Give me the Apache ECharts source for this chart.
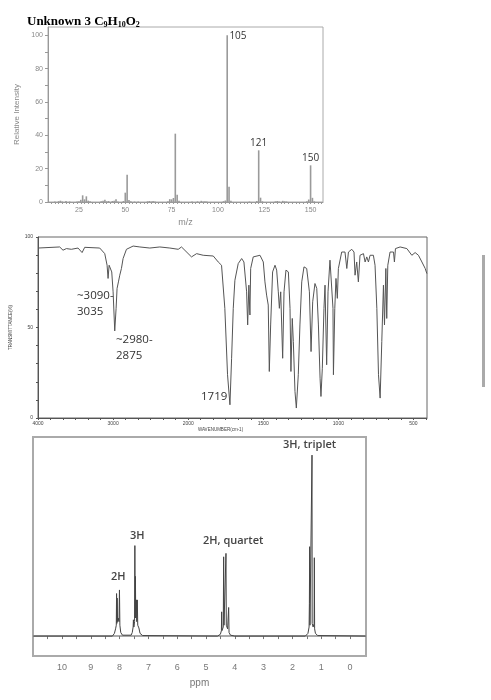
<!DOCTYPE html>
<html><head><meta charset="utf-8">
<script src="https://cdn.jsdelivr.net/npm/echarts@6/dist/echarts.min.js"></script>
<style>html,body{margin:0;padding:0;background:#fff}#c{width:491px;height:700px}</style>
</head><body><div id="c"></div>
<script>
// ---------- Mass spectrum ----------
const msMz  = [12,14,15,16,18,20,24,25,26,27,28,29,30,31,37,38,39,40,41,43,44,45,46,49,50,51,52,53,55,57,62,63,64,65,66,73,74,75,76,77,78,79,86,89,91,92,93,94,103,104,105,106,107,117,121,122,123,124,131,132,133,135,136,137,148,149,150,151,152];
const msInt = [0.3,0.5,0.8,0.3,0.6,0.3,0.3,0.5,1.3,4.0,1.6,3.4,0.8,0.4,0.4,0.7,1.3,0.4,0.6,0.6,0.8,1.7,0.3,0.6,5.6,16.4,1.2,0.5,0.3,0.3,0.4,0.6,0.3,0.6,0.3,0.5,1.7,1.6,2.4,41.0,4.4,0.7,0.3,0.4,0.7,0.3,0.4,0.3,0.5,0.9,100,9.2,0.7,0.3,0.6,31.0,2.6,0.4,0.4,0.6,0.3,0.7,0.4,0.3,0.4,1.5,22.0,2.5,0.4];
const msPeakMz   = [105, 122, 150];
const msPeakText = ['105', '121', '150'];
const msXTicks = [25, 50, 75, 100, 125, 150];
const msYTicks = [0, 20, 40, 60, 80, 100];

// ---------- IR spectrum ----------
const irWave  = [4000,3711,3667,3622,3556,3467,3413,3378,3178,3111,3080,3067,3053,3031,3018,3000,2978,2960,2947,2929,2911,2889,2867,2822,2733,2644,2511,2378,2244,2133,2089,1978,1944,1900,1833,1800,1778,1756,1738,1722,1711,1700,1689,1667,1644,1629,1611,1604,1596,1589,1584,1567,1522,1500,1489,1478,1467,1460,1451,1438,1422,1411,1400,1393,1384,1371,1362,1349,1333,1322,1316,1307,1300,1289,1280,1267,1256,1244,1229,1211,1193,1182,1171,1156,1144,1133,1122,1116,1107,1096,1089,1078,1069,1056,1044,1036,1033,1024,1016,1007,1000,978,956,944,933,911,896,889,878,867,856,833,822,811,800,789,767,756,744,733,722,711,700,693,684,678,671,656,633,627,620,589,544,511,489,467,444,422,411];
const irTrans = [93.9,94.5,92.7,93.6,93.2,93.9,91.4,94.3,93.9,90.8,84.4,77.1,84.4,84.8,80.7,69.7,48.1,60.6,71.6,75.2,78.9,82.6,88.1,93.2,95.0,94.5,93.9,94.5,93.9,93.2,94.5,89.0,90.8,89.9,89.5,86.2,84.4,60.6,23.9,7.3,33.0,60.6,76.1,85.3,88.1,86.2,69.7,51.4,73.4,56.9,82.6,89.0,89.9,86.2,75.2,67.9,62.4,25.7,51.4,80.7,84.4,81.7,69.7,60.6,69.7,33.0,69.7,81.7,80.7,60.6,25.7,55.0,42.2,14.7,5.5,23.9,51.4,75.2,83.5,82.6,69.7,36.7,64.2,74.3,71.6,51.4,22.0,11.9,27.5,60.6,73.4,29.4,69.7,87.2,86.2,60.6,23.9,60.6,77.1,66.1,82.6,91.7,91.7,82.6,91.7,93.2,91.7,78.9,86.2,75.2,89.9,90.8,86.2,89.0,86.2,89.9,89.9,84.4,60.6,23.9,11.0,42.2,73.4,51.4,82.6,55.0,84.4,91.7,91.7,86.2,93.6,94.5,93.6,89.9,91.4,89.9,86.2,82.6,79.8];
const irXTickWave = [4000, 3000, 2000, 1500, 1000, 500];
const irYTicks = [0, 50, 100];
const irNotes = ['~3090-\n3035', '~2980-\n2875', '1719'];

// ---------- 1H NMR spectrum ----------
const nmrPpm = [11.0,8.25,8.18,8.14,8.115,8.105,8.095,8.085,8.07,8.05,8.02,8.005,7.99,7.96,7.9,7.6,7.56,7.53,7.52,7.505,7.48,7.47,7.46,7.45,7.44,7.415,7.405,7.385,7.37,7.33,7.32,7.29,7.2,4.6,4.5,4.465,4.456,4.445,4.40,4.387,4.375,4.35,4.315,4.306,4.295,4.25,4.222,4.213,4.2,4.15,4.0,1.55,1.46,1.42,1.41,1.40,1.39,1.35,1.325,1.319,1.313,1.28,1.245,1.238,1.228,1.2,1.12,-0.55];
const nmrInt = [0,0,1.5,4,6,23.5,7,21,8,10,8,25.5,6,2,0.5,0.5,2,5,9,5,8,50,10,33,10,20,8,20,6,4.5,4,1.5,0.3,0,1,3,13.4,3,5,43.8,6,5,6,45.7,6,4,3,15.8,2,0.5,0,0,1.5,5,18,49.4,6,5,7,100,7,5,7,43.3,4,1.5,0.3,0];
const nmrXTicks = [0,1,2,3,4,5,6,7,8,9,10];
const nmrNotes = ['2H', '3H', '2H, quartet', '3H, triplet'];

// ---------- helpers ----------
function waveToU(w) { return w >= 2000 ? (4000 - w) / 1000 : 2 + (2000 - w) / 500; }
function uToWave(u) { return u <= 2 ? Math.round(4000 - 1000 * u) : Math.round(2000 - 500 * (u - 2)); }

const msData = msMz.map((m, i) => {
  const k = msPeakMz.indexOf(m);
  if (k < 0) return [m, msInt[i]];
  const first = k === 0;
  return {
    value: [m, msInt[i]],
    label: {
      show: true, formatter: msPeakText[k],
      position: first ? [3, -4] : 'top', distance: 2,
      align: first ? 'left' : 'center',
      fontFamily: 'Open Sans', fontSize: 10, color: '#333'
    }
  };
});
const irData = irWave.map((w, i) => [waveToU(w), irTrans[i]]);
const nmrData = nmrPpm.map((p, i) => [p, nmrInt[i]]);

const msMinor = []; for (let v = 10; v <= 156; v += 2) msMinor.push(v);
const irTickU = []; for (let i = 0; i <= 31; i++) irTickU.push(i / 6);
const nmrTickV = []; for (let v = 0; v <= 21; v++) nmrTickV.push(v / 2);
const tenTicks = [0,10,20,30,40,50,60,70,80,90,100];

const chart = echarts.init(document.getElementById('c'), null, { renderer: 'canvas' });
const noteFont = { fontFamily: 'Open Sans', fontSize: 11.5, fill: '#333' };
const nmrFont = { fontFamily: 'Open Sans', fontSize: 11, fontWeight: 600, fill: '#444' };

chart.setOption({
  animation: false,
  backgroundColor: '#fff',
  title: {
    left: 22, top: 9,
    text: '{b|Unknown 3 }{n|C}{s|9}{n|H}{s|10}{n|O}{s|2}',
    textStyle: {
      rich: {
        b: { fontFamily: 'Liberation Serif', fontWeight: 'bold', fontSize: 13, color: '#000', lineHeight: 16 },
        n: { fontFamily: 'Liberation Serif', fontSize: 13, color: '#000', lineHeight: 16 },
        s: { fontFamily: 'Liberation Serif', fontSize: 8, color: '#000', padding: [6, 0, 0, 0], lineHeight: 16 }
      }
    }
  },
  grid: [
    { left: 48, top: 27, width: 275, height: 175, show: true, borderColor: '#aaa', borderWidth: 1 },
    { left: 38, top: 237, width: 389, height: 181, show: true, borderColor: '#666', borderWidth: 1 },
    { left: 33, top: 437, width: 333, height: 219, show: true, borderColor: '#aaa', borderWidth: 2 }
  ],
  xAxis: [
    {
      gridIndex: 0, type: 'value', min: 8.3, max: 156.7,
      name: 'm/z', nameLocation: 'middle', nameGap: 16,
      nameTextStyle: { fontFamily: 'Liberation Sans', fontSize: 9, color: '#888' },
      axisLine: { show: true, lineStyle: { color: '#999' } },
      axisTick: { show: true, length: 2, customValues: msMinor, lineStyle: { color: '#999' } },
      axisLabel: { customValues: msXTicks, fontFamily: 'Liberation Sans', fontSize: 7, color: '#888', margin: 5 },
      splitLine: { show: false }
    },
    {
      gridIndex: 1, type: 'value', min: 0, max: 5.18,
      name: 'WAVENUMBER(cm-1)', nameLocation: 'middle', nameGap: 8,
      nameTextStyle: { fontFamily: 'Liberation Sans', fontSize: 4.5, color: '#444', padding: [0, 24, 0, 0] },
      axisLine: { show: true, lineStyle: { color: '#555' } },
      axisTick: { show: true, length: 2, customValues: irTickU, lineStyle: { color: '#555' } },
      axisLabel: { customValues: irXTickWave.map(waveToU), formatter: v => String(uToWave(v)),
                   fontFamily: 'Liberation Sans', fontSize: 5, color: '#444', margin: 3 },
      splitLine: { show: false }
    },
    {
      gridIndex: 2, type: 'value', min: -0.556, max: 11.007, inverse: true,
      name: 'ppm', nameLocation: 'middle', nameGap: 22,
      nameTextStyle: { fontFamily: 'Liberation Sans', fontSize: 10, color: '#777' },
      axisLine: { show: true, lineStyle: { color: '#aaa', width: 2 } },
      axisTick: { show: true, length: 3, customValues: nmrTickV, lineStyle: { color: '#777' } },
      axisLabel: { customValues: nmrXTicks, fontFamily: 'Liberation Sans', fontSize: 9, color: '#777', margin: 7 },
      splitLine: { show: false }
    }
  ],
  yAxis: [
    {
      gridIndex: 0, type: 'value', min: 0, max: 105,
      name: 'Relative Intensity', nameLocation: 'middle', nameGap: 20, nameRotate: 90,
      nameTextStyle: { fontFamily: 'Liberation Sans', fontSize: 8, color: '#888' },
      axisLine: { show: true, lineStyle: { color: '#999' } },
      axisTick: { show: true, length: 3, customValues: tenTicks, lineStyle: { color: '#999' } },
      axisLabel: { customValues: msYTicks, fontFamily: 'Liberation Sans', fontSize: 7, color: '#888', margin: 5 },
      splitLine: { show: false }
    },
    {
      gridIndex: 1, type: 'value', min: 0, max: 100,
      name: 'TRANSMITTANCE(%)', nameLocation: 'middle', nameGap: 17, nameRotate: 90,
      nameTextStyle: { fontFamily: 'Liberation Sans', fontSize: 4.5, color: '#444' },
      axisLine: { show: true, lineStyle: { color: '#555' } },
      axisTick: { show: true, length: 2, customValues: tenTicks, lineStyle: { color: '#555' } },
      axisLabel: { customValues: irYTicks, fontFamily: 'Liberation Sans', fontSize: 5, color: '#444', margin: 5 },
      splitLine: { show: false }
    },
    {
      gridIndex: 2, type: 'value', min: -11, max: 110,
      axisLine: { show: false }, axisTick: { show: false }, axisLabel: { show: false },
      splitLine: { show: false }
    }
  ],
  series: [
    { type: 'bar', xAxisIndex: 0, yAxisIndex: 0, data: msData, barWidth: 1.6,
      itemStyle: { color: '#9a9a9a' }, silent: true },
    { type: 'line', xAxisIndex: 1, yAxisIndex: 1, data: irData, showSymbol: false,
      lineStyle: { color: '#555', width: 1 }, silent: true },
    { type: 'line', xAxisIndex: 2, yAxisIndex: 2, data: nmrData, showSymbol: false,
      lineStyle: { color: '#444', width: 1 }, silent: true }
  ],
  graphic: [
    { type: 'text', left: 77, top: 288, style: Object.assign({ text: irNotes[0], lineHeight: 16 }, noteFont) },
    { type: 'text', left: 116, top: 332, style: Object.assign({ text: irNotes[1], lineHeight: 16 }, noteFont) },
    { type: 'text', left: 201, top: 391, style: Object.assign({ text: irNotes[2] }, noteFont) },
    { type: 'text', left: 111, top: 571, style: Object.assign({ text: nmrNotes[0] }, nmrFont) },
    { type: 'text', left: 130, top: 530, style: Object.assign({ text: nmrNotes[1] }, nmrFont) },
    { type: 'text', left: 203, top: 535, style: Object.assign({ text: nmrNotes[2] }, nmrFont) },
    { type: 'text', left: 283, top: 439, style: Object.assign({ text: nmrNotes[3] }, nmrFont) },
    { type: 'rect', left: 482, top: 255, shape: { width: 3, height: 132 }, style: { fill: '#aaa' } }
  ]
});
</script>
</body></html>
